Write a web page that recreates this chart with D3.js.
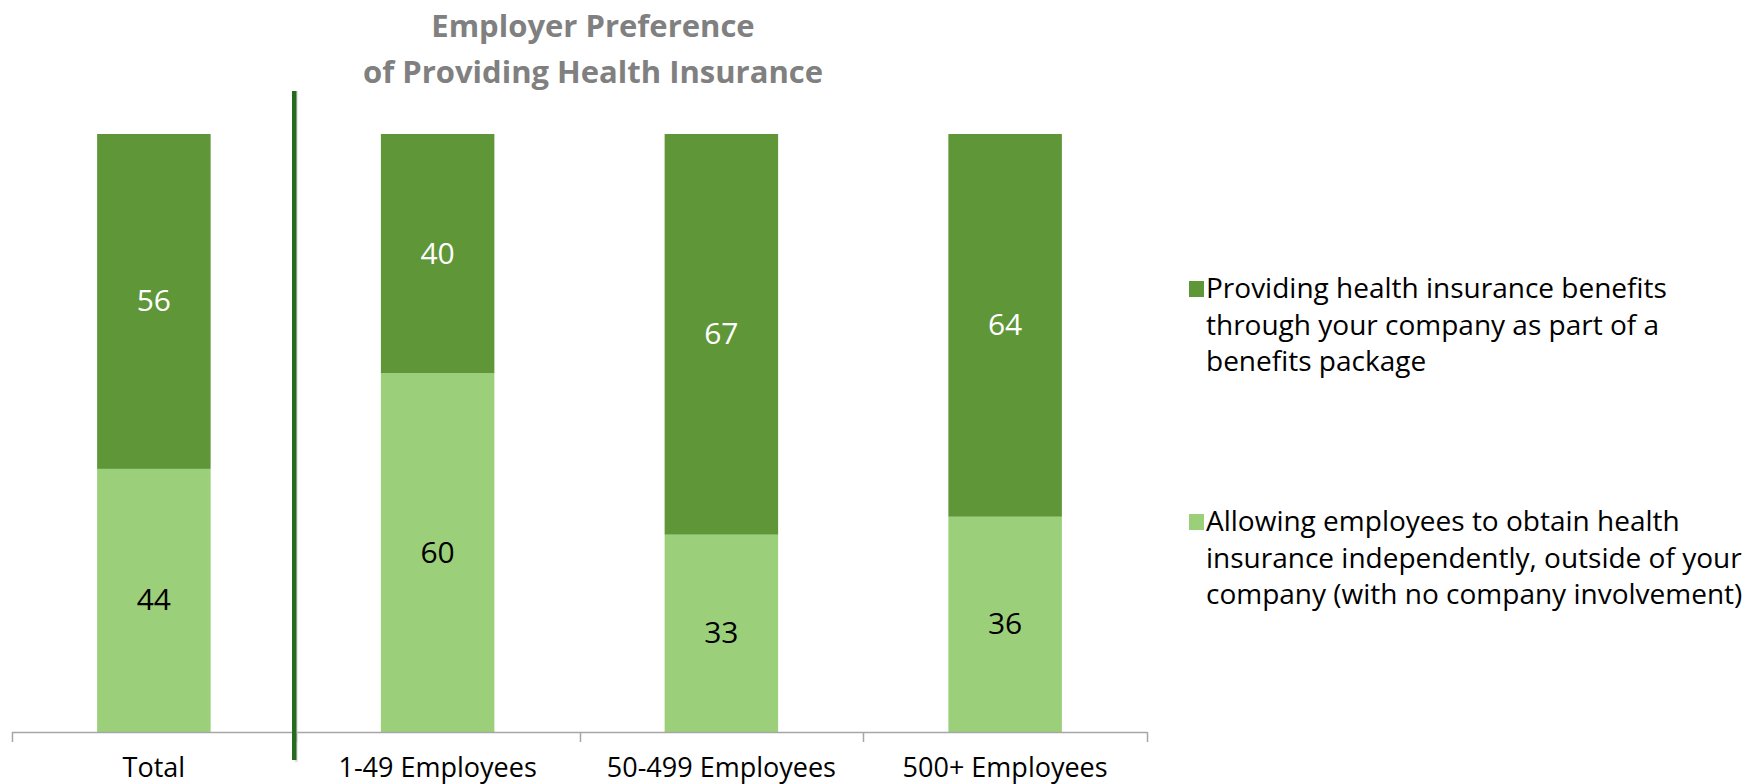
<!DOCTYPE html>
<html>
<head>
<meta charset="utf-8">
<script src="https://cdn.jsdelivr.net/npm/d3@7"></script>
<style>
  html, body { margin: 0; padding: 0; background: #fff; }
  svg { display: block; }
</style>
</head>
<body>
<svg id="chart" width="1758" height="784"></svg>
<script>
// Employer preference data (percent of respondents)
const categories = ["Total", "1-49 Employees", "50-499 Employees", "500+ Employees"];
const independentValues = [44, 60, 33, 36];   // light segment (bottom)
const companyValues = [56, 40, 67, 64];       // dark segment (top)
const legendLines = [
  ["Providing health insurance benefits", "through your company as part of a", "benefits package"],
  ["Allowing employees to obtain health", "insurance independently, outside of your", "company (with no company involvement)"]
];
const titleLines = ["Employer Preference", "of Providing Health Insurance"];

const darkGreen = "#5e9638";
const lightGreen = "#9ccf7a";
const font = "'Open Sans', 'Liberation Sans', sans-serif";

const svg = d3.select("#chart");
const plot = { left: 12, right: 1147, top: 134, bottom: 732 };

const x = d3.scaleBand().domain(categories).range([plot.left, plot.right]).paddingInner(0.6).paddingOuter(0.3);
const y = d3.scaleLinear().domain([0, 100]).range([plot.bottom, plot.top]);

const rows = categories.map((c, i) => ({ cat: c, independent: independentValues[i], company: companyValues[i] }));
const layers = d3.stack().keys(["independent", "company"])(rows);
const fills = { independent: lightGreen, company: darkGreen };
const labelColors = { independent: "#000", company: "#fff" };

// stacked bars with value labels
const g = svg.append("g");
layers.forEach(layer => {
  g.selectAll(null).data(layer).join("rect")
    .attr("x", d => x(d.data.cat))
    .attr("width", x.bandwidth())
    .attr("y", d => y(d[1]))
    .attr("height", d => y(d[0]) - y(d[1]))
    .attr("fill", fills[layer.key]);
  g.selectAll(null).data(layer).join("text")
    .attr("x", d => x(d.data.cat) + x.bandwidth() / 2)
    .attr("y", d => (y(d[0]) + y(d[1])) / 2)
    .attr("dy", "0.33em")
    .attr("text-anchor", "middle")
    .attr("font-family", font)
    .attr("font-size", 30)
    .attr("fill", labelColors[layer.key])
    .text(d => d.data[layer.key]);
});

// category axis with ticks between bands
const step = x.step();
const boundaries = d3.range(categories.length + 1).map(i => x(categories[0]) - step * x.paddingOuter() + i * step);
const axis = svg.append("g");
axis.append("line")
  .attr("x1", boundaries[0]).attr("x2", boundaries[boundaries.length - 1])
  .attr("y1", plot.bottom + 0.5).attr("y2", plot.bottom + 0.5)
  .attr("stroke", "#a6a6a6").attr("stroke-width", 1.5);
axis.selectAll(null).data(boundaries).join("line")
  .attr("x1", d => Math.round(d) + 0.5).attr("x2", d => Math.round(d) + 0.5)
  .attr("y1", plot.bottom).attr("y2", plot.bottom + 10)
  .attr("stroke", "#a6a6a6").attr("stroke-width", 1.5);
axis.selectAll(null).data(categories).join("text")
  .attr("x", d => x(d) + x.bandwidth() / 2)
  .attr("y", 777)
  .attr("text-anchor", "middle")
  .attr("font-family", font)
  .attr("font-size", 27)
  .attr("fill", "#000")
  .text(d => d);

// separator between the total and the size breakdown
const sepX = boundaries[1] - 1.5;
svg.append("line")
  .attr("x1", sepX + 2).attr("x2", sepX + 2).attr("y1", 91).attr("y2", 762)
  .attr("stroke", "#d0d0d0").attr("stroke-width", 3).attr("opacity", 0.7);
svg.append("line")
  .attr("x1", sepX).attr("x2", sepX).attr("y1", 91).attr("y2", 760)
  .attr("stroke", "#266a1f").attr("stroke-width", 4.5);

// title
svg.append("text")
  .attr("text-anchor", "middle")
  .attr("font-family", font)
  .attr("font-weight", "bold")
  .attr("font-size", 31)
  .attr("fill", "#808080")
  .selectAll("tspan").data(titleLines).join("tspan")
  .attr("x", 593)
  .attr("y", (d, i) => 37 + i * 46)
  .text(d => d);

// legend
const legendKeys = ["company", "independent"];
const legendBaselines = [298, 531];
const legend = svg.append("g");
legendKeys.forEach((k, i) => {
  legend.append("rect")
    .attr("x", 1189).attr("y", legendBaselines[i] - 17)
    .attr("width", 15).attr("height", 16)
    .attr("fill", fills[k]);
  legend.append("text")
    .attr("font-family", font)
    .attr("font-size", 28)
    .attr("fill", "#000")
    .selectAll("tspan").data(legendLines[i]).join("tspan")
    .attr("x", 1206)
    .attr("y", (d, j) => legendBaselines[i] + j * 36.5)
    .text(d => d);
});
</script>
</body>
</html>
